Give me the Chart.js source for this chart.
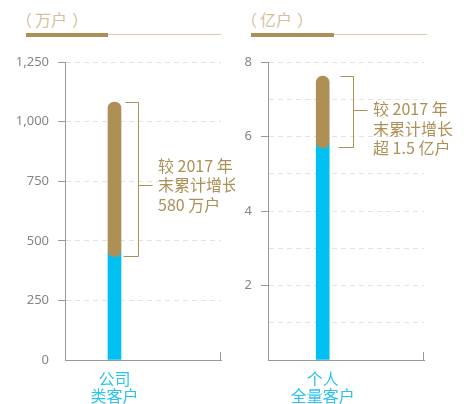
<!DOCTYPE html>
<html>
<head>
<meta charset="utf-8">
<script src="https://cdn.jsdelivr.net/npm/chart.js@4/dist/chart.umd.min.js"></script>
<style>
body { margin: 0; background: #fff; width: 470px; height: 404px; overflow: hidden; position: relative;
       font-family: "Noto Sans CJK SC", "Noto Sans", sans-serif; }
canvas { position: absolute; top: 0; }
#corp { left: 0; }
#retail { left: 235px; }
.unit { position: absolute; top: 8px; font-size: 16px; line-height: 22px; color: #d5c199;
        font-family: "Noto Sans CJK TC", "Noto Sans CJK SC", sans-serif; }
.unit .l { margin-right: 3px; }
.unit .r { margin-left: 5px; }
.thick { position: absolute; top: 33px; height: 4px; background: #ae8f56; }
.thin { position: absolute; top: 34px; height: 1px; background: #dccaa4; }
</style>
</head>
<body>
<div class="unit" style="left:16px"><span class="l">（</span>万户<span class="r">）</span></div>
<div class="thick" style="left:26px;width:82px"></div>
<div class="thin" style="left:108px;width:113px"></div>
<div class="unit" style="left:241px"><span class="l">（</span>亿户<span class="r">）</span></div>
<div class="thick" style="left:251px;width:83px"></div>
<div class="thin" style="left:334px;width:93px"></div>

<canvas id="corp" width="235" height="404"></canvas>
<canvas id="retail" width="235" height="404"></canvas>

<script>
// ---- data ----
const corpTicks = [0, 250, 500, 750, 1000, 1250];
const corpLabels = [['公司', '类客户']];
const corp2017 = [455];
const corpGrowth = [[433, 1082]];
const corpNote = ['较 2017 年', '末累计增长', '580 万户'];

const retailTicks = [2, 4, 6, 8];
const retailLabels = [['个人', '全量客户']];
const retail2017 = [5.83];
const retailGrowth = [[5.69, 7.62]];
const retailNote = ['较 2017 年', '末累计增长', '超 1.5 亿户'];

const GOLD = '#ae8f56';
const CYAN = '#00c0f2';
const AXIS = '#999999';
const GRID = '#e3e3e3';

// brackets + note text + small end tick on the x axis
const decor = {
    id: 'decor',
    afterDraw(chart, args, o) {
        const { ctx, chartArea: a, scales: { x, y } } = chart;
        ctx.save();
        ctx.lineWidth = 1;

        ctx.strokeStyle = AXIS;
        ctx.beginPath();
        ctx.moveTo(Math.round(a.right) - 0.5, a.bottom);
        ctx.lineTo(Math.round(a.right) - 0.5, a.bottom - 8);
        ctx.stroke();

        const top = Math.round(y.getPixelForValue(o.range[1])) + 0.5;
        const bot = Math.round(y.getPixelForValue(o.range[0])) - 0.5;
        const bx = Math.round(x.getPixelForValue(0) + o.dx) + 0.5;
        const mid = (top + bot) / 2;
        const sy = Math.round(mid + o.stubDy) + 0.5;

        ctx.strokeStyle = o.color;
        ctx.beginPath();
        ctx.moveTo(bx - 13, top); ctx.lineTo(bx, top); ctx.lineTo(bx, bot); ctx.lineTo(bx - 15, bot);
        ctx.moveTo(bx, sy); ctx.lineTo(bx + 14, sy);
        ctx.stroke();

        ctx.fillStyle = o.color;
        ctx.font = '16px "Noto Sans CJK SC", sans-serif';
        ctx.textBaseline = 'middle';
        o.lines.forEach((t, i) => ctx.fillText(t, bx + 19.5, mid + o.textDy + i * 19.5));
        ctx.restore();
    }
};

function makeChart(id, cfg) {
    return new Chart(document.getElementById(id), {
        type: 'bar',
        data: {
            datasets: [
                {
                    data: cfg.growth.map((r, i) => ({ x: i, y: r })),
                    backgroundColor: GOLD,
                    borderRadius: 10,
                    borderSkipped: false,
                    stack: 's'
                },
                {
                    data: cfg.base.map((v, i) => ({ x: i, y: v })),
                    backgroundColor: CYAN,
                    borderRadius: 0,
                    stack: 's'
                }
            ]
        },
        options: {
            responsive: false,
            animation: false,
            layout: { padding: { top: 62, right: cfg.padRight, bottom: 0, left: 0 } },
            datasets: { bar: { barThickness: 13 } },
            plugins: {
                legend: { display: false },
                tooltip: { enabled: false },
                decor: { range: cfg.growth[0], dx: cfg.dx, stubDy: cfg.stubDy, textDy: cfg.textDy, lines: cfg.note, color: GOLD }
            },
            scales: {
                x: {
                    type: 'linear',
                    offset: false,
                    min: -0.5,
                    max: cfg.xMax,
                    afterBuildTicks: s => { s.ticks = cfg.labels.map((l, i) => ({ value: i })); },
                    afterFit: s => { s.height = 44; },
                    grid: { display: false },
                    border: { display: true, color: AXIS, width: 1 },
                    ticks: {
                        color: '#2cc3ee',
                        font: { size: 16, family: '"Noto Sans CJK SC", sans-serif', lineHeight: 1.08 },
                        padding: 2,
                        autoSkip: false,
                        maxRotation: 0,
                        callback: v => cfg.labels[v]
                    }
                },
                y: {
                    stacked: false,
                    min: 0,
                    max: cfg.max,
                    afterFit: s => { s.width = cfg.axisW; },
                    border: { display: true, color: AXIS, width: 1, dash: [5, 4] },
                    grid: {
                        color: c => c.tick.value === 0 ? 'rgba(0,0,0,0)' : GRID,
                        lineWidth: 1,
                        tickLength: 7,
                        tickColor: c => (c.tick.value !== 0 && cfg.ticks.includes(c.tick.value)) ? AXIS : 'rgba(0,0,0,0)'
                    },
                    ticks: {
                        stepSize: cfg.step,
                        padding: 9,
                        color: '#858585',
                        font: { size: 13, family: '"Noto Sans", sans-serif' },
                        callback: v => cfg.ticks.includes(v) ? v.toLocaleString('en-US') : ''
                    }
                }
            }
        },
        plugins: [decor]
    });
}

makeChart('corp', {
    labels: corpLabels, base: corp2017, growth: corpGrowth, note: corpNote, ticks: corpTicks,
    max: 1250, step: 250, axisW: 65, padRight: 14, xMax: 1.076,
    dx: 24, stubDy: 5, textDy: -14
});

makeChart('retail', {
    labels: retailLabels, base: retail2017, growth: retailGrowth, note: retailNote, ticks: retailTicks,
    max: 8, step: 1, axisW: 33, padRight: 46, xMax: 0.926,
    dx: 30, stubDy: -2, textDy: -3
});
</script>
</body>
</html>
